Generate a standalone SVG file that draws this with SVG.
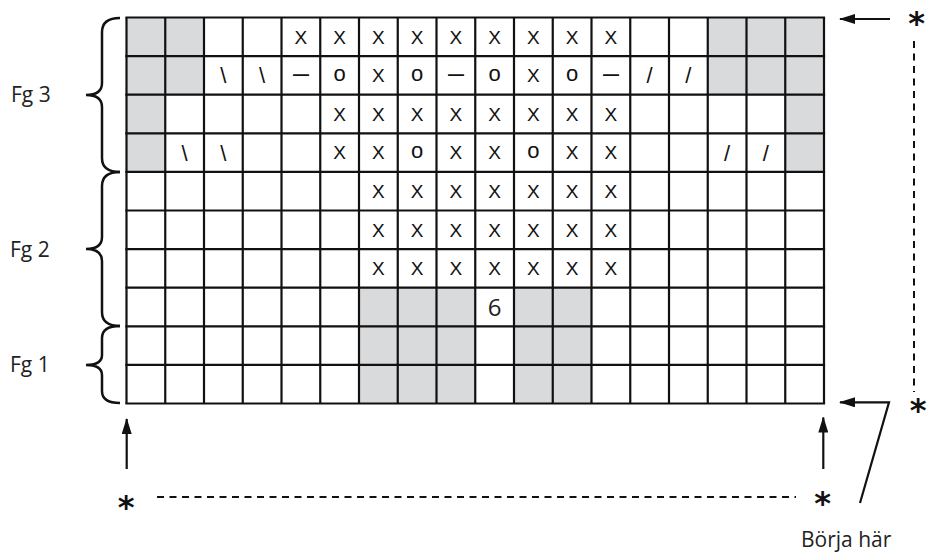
<svg xmlns="http://www.w3.org/2000/svg" width="928" height="557" viewBox="0 0 928 557">
<defs>
<style>
.gray{fill:#d9dadc;stroke:none}
.grid{stroke:#111;stroke-width:2.2;fill:none}
.c{font-family:"Liberation Sans",Arial,sans-serif;font-size:19px;fill:#111;text-anchor:middle}
.o{font-family:"Liberation Sans",Arial,sans-serif;font-size:22px;fill:#111;text-anchor:middle}
.sl{font-family:"Liberation Sans",Arial,sans-serif;font-size:22px;fill:#111;text-anchor:middle}
.dash{font-family:"Liberation Sans",Arial,sans-serif;font-size:16px;font-weight:bold;fill:#111;text-anchor:middle}
.lbl{font-family:"Open Sans","Noto Sans",sans-serif;font-size:21px;fill:#222}
.six{font-family:"Open Sans","Noto Sans",sans-serif;font-size:24px;fill:#222;text-anchor:middle}
.ast{font-family:"DejaVu Sans",sans-serif;font-size:32px;font-weight:bold;fill:#111;text-anchor:middle}
.brace{stroke:#111;stroke-width:2.5;fill:none}
.line{stroke:#111;stroke-width:2.2;fill:none}
.dashed{stroke:#111;stroke-width:2;fill:none;stroke-dasharray:7 5.5}
</style>
<marker id="ah" viewBox="0 0 16 10" refX="15" refY="5" markerWidth="16" markerHeight="10" markerUnits="userSpaceOnUse" orient="auto">
<path d="M0,0 L16,5 L0,10 Z" fill="#111"/>
</marker>
</defs>
<rect width="928" height="557" fill="#fff"/>

<g id="chart">
<g id="shading">
<rect class="gray" x="126.5" y="17.5" width="77.5" height="77.2"/>
<rect class="gray" x="126.5" y="94.7" width="38.75" height="77.2"/>
<rect class="gray" x="707.75" y="17.5" width="116.25" height="77.2"/>
<rect class="gray" x="785.25" y="94.7" width="38.75" height="77.2"/>
<rect class="gray" x="359" y="287.7" width="116.25" height="115.8"/>
<rect class="gray" x="514" y="287.7" width="77.5" height="115.8"/>
</g>
<g id="gridlines" class="grid">
<path d="M126.5,17.5V403.5M165.25,17.5V403.5M204,17.5V403.5M242.75,17.5V403.5M281.5,17.5V403.5M320.25,17.5V403.5M359,17.5V403.5M397.75,17.5V403.5M436.5,17.5V403.5M475.25,17.5V403.5M514,17.5V403.5M552.75,17.5V403.5M591.5,17.5V403.5M630.25,17.5V403.5M669,17.5V403.5M707.75,17.5V403.5M746.5,17.5V403.5M785.25,17.5V403.5M824,17.5V403.5"/>
<path d="M125.4,17.5H825.1M125.4,56.1H825.1M125.4,94.7H825.1M125.4,133.3H825.1M125.4,171.9H825.1M125.4,210.5H825.1M125.4,249.1H825.1M125.4,287.7H825.1M125.4,326.3H825.1M125.4,364.9H825.1M125.4,403.5H825.1"/>
</g>
<g id="row0">
<text class="c" x="300.9" y="43.6">X</text><text class="c" x="339.6" y="43.6">X</text><text class="c" x="378.4" y="43.6">X</text><text class="c" x="417.1" y="43.6">X</text><text class="c" x="455.9" y="43.6">X</text><text class="c" x="494.6" y="43.6">X</text><text class="c" x="533.4" y="43.6">X</text><text class="c" x="572.1" y="43.6">X</text><text class="c" x="610.9" y="43.6">X</text>
</g>
<g id="row1">
<text class="sl" x="223.4" y="83">\</text><text class="sl" x="262.1" y="83">\</text>
<text class="dash" x="300.9" y="80">—</text>
<text class="o" x="339.6" y="81">o</text>
<text class="c" x="378.4" y="81.6">X</text>
<text class="o" x="417.1" y="81">o</text>
<text class="dash" x="455.9" y="80">—</text>
<text class="o" x="494.6" y="81">o</text>
<text class="c" x="533.4" y="81.6">X</text>
<text class="o" x="572.1" y="81">o</text>
<text class="dash" x="610.9" y="80">—</text>
<text class="sl" x="649.6" y="83">/</text><text class="sl" x="688.4" y="83">/</text>
</g>
<g id="row2">
<text class="c" x="339.6" y="120.8">X</text><text class="c" x="378.4" y="120.8">X</text><text class="c" x="417.1" y="120.8">X</text><text class="c" x="455.9" y="120.8">X</text><text class="c" x="494.6" y="120.8">X</text><text class="c" x="533.4" y="120.8">X</text><text class="c" x="572.1" y="120.8">X</text><text class="c" x="610.9" y="120.8">X</text>
</g>
<g id="row3">
<text class="sl" x="184.6" y="160.5">\</text><text class="sl" x="223.4" y="160.5">\</text>
<text class="c" x="339.6" y="159.4">X</text><text class="c" x="378.4" y="159.4">X</text>
<text class="o" x="417.1" y="158.4">o</text>
<text class="c" x="455.9" y="159.4">X</text><text class="c" x="494.6" y="159.4">X</text>
<text class="o" x="533.4" y="158.4">o</text>
<text class="c" x="572.1" y="159.4">X</text><text class="c" x="610.9" y="159.4">X</text>
<text class="sl" x="727.1" y="160.5">/</text><text class="sl" x="765.9" y="160.5">/</text>
</g>
<g id="row4">
<text class="c" x="378.4" y="198">X</text><text class="c" x="417.1" y="198">X</text><text class="c" x="455.9" y="198">X</text><text class="c" x="494.6" y="198">X</text><text class="c" x="533.4" y="198">X</text><text class="c" x="572.1" y="198">X</text><text class="c" x="610.9" y="198">X</text>
</g>
<g id="row5">
<text class="c" x="378.4" y="236.6">X</text><text class="c" x="417.1" y="236.6">X</text><text class="c" x="455.9" y="236.6">X</text><text class="c" x="494.6" y="236.6">X</text><text class="c" x="533.4" y="236.6">X</text><text class="c" x="572.1" y="236.6">X</text><text class="c" x="610.9" y="236.6">X</text>
</g>
<g id="row6">
<text class="c" x="378.4" y="275.2">X</text><text class="c" x="417.1" y="275.2">X</text><text class="c" x="455.9" y="275.2">X</text><text class="c" x="494.6" y="275.2">X</text><text class="c" x="533.4" y="275.2">X</text><text class="c" x="572.1" y="275.2">X</text><text class="c" x="610.9" y="275.2">X</text>
</g>
<g id="row7">
<text class="six" x="494.6" y="316">6</text>
</g>
</g>

<g id="fg3">
<path class="brace" d="M120,18 Q102,18 102,32 L102,83 Q102,95 86,95 Q102,95 102,107 L102,158 Q102,172 120,172"/>
<text class="lbl" x="11" y="102">Fg 3</text>
</g>
<g id="fg2">
<path class="brace" d="M120,172 Q102,172 102,186 L102,237 Q102,249 86,249 Q102,249 102,261 L102,312 Q102,326 120,326"/>
<text class="lbl" x="10" y="257">Fg 2</text>
</g>
<g id="fg1">
<path class="brace" d="M120,326 Q102,326 102,338 L102,355 Q102,365 86,365 Q102,365 102,375 L102,391 Q102,403 120,403"/>
<text class="lbl" x="10" y="372">Fg 1</text>
</g>

<g id="start">
<text class="ast" x="822.5" y="513.5">*</text>
<text class="lbl" x="801" y="546.5">Börja här</text>
</g>
<g id="stars">
<text class="ast" x="916.5" y="34">*</text>
<text class="ast" x="918" y="421">*</text>
<text class="ast" x="126" y="517.5">*</text>
</g>

<g id="connectors">
<line class="line" x1="890" y1="19" x2="840" y2="19" marker-end="url(#ah)"/>
<path class="line" d="M860,503 L889,402.3 L840,402.3" marker-end="url(#ah)"/>
<line class="line" x1="823.3" y1="469" x2="823.3" y2="417.5" marker-end="url(#ah)"/>
<line class="line" x1="126.7" y1="469" x2="126.7" y2="419" marker-end="url(#ah)"/>
<line class="dashed" x1="914" y1="41" x2="914" y2="392"/>
<line class="dashed" x1="157" y1="497" x2="796" y2="497"/>
</g>
</svg>
